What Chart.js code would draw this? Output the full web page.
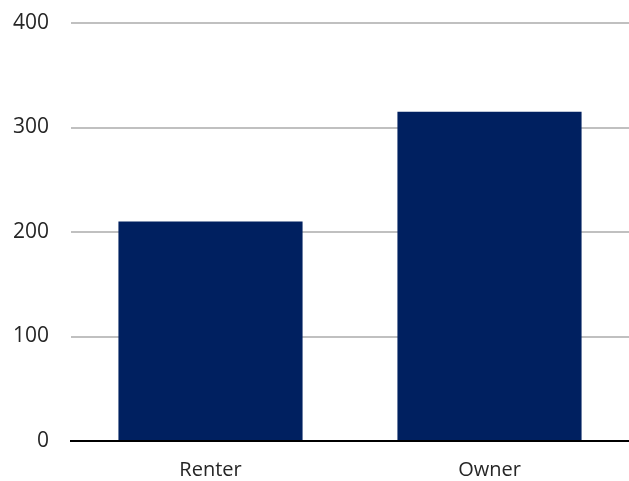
<!DOCTYPE html>
<html>
<head>
<meta charset="utf-8">
<script src="https://cdn.jsdelivr.net/npm/chart.js@4"></script>
<style>
  html, body { margin: 0; padding: 0; background: #fff; }
  #wrap { width: 629px; height: 481px; }
</style>
</head>
<body>
<div id="wrap"><canvas id="myChart"></canvas></div>
<script>
// data
const categories = ['Renter', 'Owner'];
const values = [210, 315];
const yTicks = [0, 100, 200, 300, 400];

const barColor = '#002060';
const textColor = '#262626';

var ctx = document.getElementById('myChart');

var myChart = new Chart(ctx, {
    type: 'bar',
    data: {
        labels: categories,
        datasets: [{
            data: values,
            backgroundColor: barColor,
            borderWidth: 0,
            barPercentage: 0.66,
            categoryPercentage: 1
        }]
    },
    options: {
        responsive: true,
        maintainAspectRatio: false,
        animation: false,
        layout: { padding: { top: 23, right: 0, left: 0, bottom: 0 } },
        plugins: {
            legend: { display: false },
            tooltip: { enabled: false }
        },
        scales: {
            x: {
                grid: { display: false, drawTicks: false },
                border: { display: true, color: '#000', width: 2 },
                ticks: {
                    color: textColor,
                    font: { family: 'Open Sans', size: 20 },
                    padding: 17
                },
                afterFit: function (scale) { scale.height = 40; }
            },
            y: {
                min: 0,
                max: 400,
                afterBuildTicks: function (scale) {
                    scale.ticks = yTicks.map(v => ({ value: v }));
                },
                grid: {
                    drawTicks: false,
                    lineWidth: 2,
                    color: c => c.tick && c.tick.value === 0 ? '#000' : '#c0c0c0'
                },
                border: { display: false },
                ticks: {
                    color: textColor,
                    font: { family: 'Open Sans', size: 21 },
                    padding: 22
                },
                afterFit: function (scale) {
                    scale.width = 71;
                    scale.paddingTop = 0;
                    scale.paddingBottom = 0;
                }
            }
        }
    }
});
</script>
</body>
</html>
